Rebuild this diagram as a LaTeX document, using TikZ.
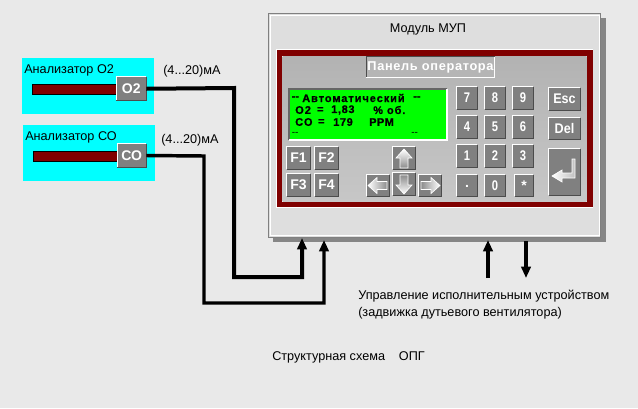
\documentclass[tikz,border=0pt]{standalone}
\usepackage{fontspec}
\usepackage{graphicx}
\setmainfont{Liberation Sans}
\newfontfamily\lcdfam[FakeBold=0.7,BoldFont={Liberation Sans Bold}]{Liberation Sans Bold}
\usetikzlibrary{arrows.meta,calc}
\definecolor{bg}{HTML}{E9E9E9}
\definecolor{modfill}{HTML}{DEDEDE}
\definecolor{maroon}{HTML}{800000}
\definecolor{btngrey}{HTML}{808080}
\definecolor{shadowgrey}{HTML}{868686}
\definecolor{cyanfill}{HTML}{00FFFF}
\definecolor{lcdgreen}{HTML}{00FF00}
\newcommand{\szt}{\fontsize{9.5}{11}\selectfont}
\newcommand{\lcdf}{\lcdfam\fontsize{8.2}{9}\selectfont}
\tikzset{
  x=0.75pt,y=-0.75pt,
  plain/.style={inner sep=0pt,anchor=west,text=black,font=\szt},
  btnnode/.style={fill=btngrey,inner sep=0pt,text=white,font=\fontsize{10.5}{12}\selectfont\bfseries},
  cyanbox/.style={fill=cyanfill,inner sep=0pt},
  bar/.style={fill=maroon,draw=black,line width=0.6pt},
  wire/.style={draw=black,line width=3pt,line join=miter},
  wirethin/.style={draw=black,line width=2.6pt},
  headup/.style={-{Triangle[length=8.5pt,width=7pt]}},
  lcdtext/.style={inner sep=0pt,anchor=west,font=\lcdf,text=black},
  keyicon/.style={draw=white,line width=0.5pt},
}
% name, x1,y1,x2,y2, label
\newcommand{\btn}[6]{%
  \pgfmathsetlengthmacro{\bw}{(#4-#2)*0.75pt}%
  \pgfmathsetlengthmacro{\bh}{(#5-#3)*0.75pt}%
  \node[btnnode,minimum width=\bw,minimum height=\bh] (#1) at ({(#2+#4)/2},{(#3+#5)/2}) {#6};
  \draw[white,line width=0.9pt] (#1.south west)--(#1.north west)--(#1.north east);
  \draw[black!70,line width=0.9pt] (#1.north east)--(#1.south east)--(#1.south west);
}
\newcommand{\lsp}[1]{\addfontfeature{LetterSpace=#1}}
\begin{document}
\begin{tikzpicture}
\useasboundingbox (0,0) rectangle (638,408);
\fill[bg] (0,0) rectangle (638,408);

% module
\fill[shadowgrey] (273,18) rectangle (605.5,242);
\node[fill=modfill,draw=black!50,line width=0.7pt,inner sep=0pt,minimum width=249pt,minimum height=168pt] (mod) at (434.5,125) {};
\draw[white,line width=0.5pt] (270,15) rectangle (599,235);
\node[plain,anchor=center] (modt) at (428,29.5) {Модуль МУП};

% frame and panel
\fill[white] (275.5,48.5) rectangle (593,207.5);
\fill[maroon] (276.5,49.5) rectangle (592.5,207);
\fill[white] (281.5,55.5) rectangle (587,202);
\shade[top color=black!30,bottom color=black!22] (282.5,56.5) rectangle (586.5,201);

% panel title
\node[fill=black!29,inner sep=0pt,minimum width=96pt,minimum height=15pt,text=white,font=\fontsize{9.6}{11}\selectfont\bfseries] (ptitle) at (430.5,67) {\lsp{5}Панель оператора};
\draw[black!70,line width=1pt] (ptitle.south west)--(ptitle.north west)--(ptitle.north east);
\draw[white,line width=1pt] (ptitle.north east)--(ptitle.south east)--(ptitle.south west);

% screen
\node[fill=lcdgreen,inner sep=0pt,minimum width=118pt,minimum height=38pt] (lcd) at (368,114.5) {};
\draw[black!60,line width=1pt] (lcd.south west)--(lcd.north west)--(lcd.north east);
\draw[white,line width=1pt] (lcd.north east)--(lcd.south east)--(lcd.south west);
\node[lcdtext] (l1a) at (291.5,98) {-{}-};
\node[lcdtext] (l1b) at (302,98) {\lsp{9}Автоматический};
\node[lcdtext] (l1c) at (413,98) {-{}-};
\node[lcdtext] (l2a) at (295,110) {\lsp{10}О2};
\node[lcdtext] (l2b) at (317,110) {=};
\node[lcdtext] (l2c) at (331,110) {\lsp{6}1,83};
\node[lcdtext] (l2d) at (373,110) {\lsp{9}\% об.};
\node[lcdtext] (l3a) at (295,122) {\lsp{10}СО};
\node[lcdtext] (l3b) at (318,122) {=};
\node[lcdtext] (l3c) at (333,122) {\lsp{6}179};
\node[lcdtext] (l3d) at (369,122) {\lsp{4}PPM};
\node[lcdtext,font=\fontsize{7.5}{8}\selectfont] (l4a) at (291.5,134) {-{}-};
\node[lcdtext,font=\fontsize{7.5}{8}\selectfont] (l4b) at (411,134) {-{}-};

% function keys
\btn{f1}{287}{147}{310}{169}{F1}
\btn{f2}{315}{147}{338}{169}{F2}
\btn{f3}{287}{174}{310}{196}{F3}
\btn{f4}{315}{174}{338}{196}{F4}

% arrow keys
\btn{kup}{393}{147}{415}{169}{}
\btn{kdn}{393}{173}{415}{195}{}
\btn{klf}{367}{175}{389}{196}{}
\btn{krt}{419}{175}{441}{196}{}
\path[keyicon,top color=white,bottom color=black!45] ($(kup)+(0,-9)$)--++(8,9)--++(-4,0)--++(0,10)--++(-8,0)--++(0,-10)--++(-4,0)--cycle;
\path[keyicon,top color=black!45,bottom color=white] ($(kdn)+(0,10)$)--++(8,-9)--++(-4,0)--++(0,-10)--++(-8,0)--++(0,10)--++(-4,0)--cycle;
\path[keyicon,left color=white,right color=black!45] ($(klf)+(-10,0)$)--++(9,-8)--++(0,4)--++(10,0)--++(0,8)--++(-10,0)--++(0,4)--cycle;
\path[keyicon,left color=black!45,right color=white] ($(krt)+(10,0)$)--++(-9,-8)--++(0,4)--++(-10,0)--++(0,8)--++(10,0)--++(0,4)--cycle;

% number keys
\newcommand{\numf}[1]{\scalebox{0.8}[1]{#1}}
\btn{k7}{457}{87}{477}{109}{\numf{7}}
\btn{k8}{485}{87}{505}{109}{\numf{8}}
\btn{k9}{513}{87}{533}{109}{\numf{9}}
\btn{k4}{457}{116}{477}{138}{\numf{4}}
\btn{k5}{485}{116}{505}{138}{\numf{5}}
\btn{k6}{513}{116}{533}{138}{\numf{6}}
\btn{k1}{457}{145}{477}{167}{\numf{1}}
\btn{k2}{485}{145}{505}{167}{\numf{2}}
\btn{k3}{513}{145}{533}{167}{\numf{3}}
\btn{kp}{457}{175}{477}{196}{\raisebox{-3pt}{.}}
\btn{k0}{485}{175}{505}{196}{\numf{0}}
\btn{ks}{515}{175}{533}{196}{*}
\btn{kesc}{549}{88}{580}{110}{\scalebox{0.9}[1]{Esc}}
\btn{kdel}{549}{118}{580}{139}{\scalebox{0.9}[1]{Del}}
\btn{kent}{549}{149}{580}{195}{}
\path[keyicon,left color=white,right color=black!25] ($(kent)+(-12.5,4)$)--++(10,-6)--++(0,3)--++(10,0)--++(0,-14)--++(3,0)--++(0,19)--++(-13,0)--++(0,4)--cycle;

% analysers
\node[cyanbox,minimum width=99pt,minimum height=41.5pt] (a1) at (88,86) {};
\node[cyanbox,minimum width=99pt,minimum height=42pt] (a2) at (89,153) {};
\node[plain] (a1t) at (24,70.5) {Анализатор О2};
\node[plain] (a2t) at (25,137.5) {Анализатор СО};
\node[bar,inner sep=0pt,minimum width=63pt,minimum height=7.5pt] (b1) at (74.5,89) {};
\node[bar,inner sep=0pt,minimum width=63pt,minimum height=7.5pt] (b2) at (75.5,156) {};
\btn{o2}{116.5}{77}{146}{100.5}{О2}
\btn{co}{117.5}{144}{146}{167}{СО}
\node[plain] (ma1) at (163,71) {(4...20)мА};
\node[plain] (ma2) at (161,140) {(4...20)мА};

% wiring
\coordinate (b1a) at (234,88);
\coordinate (b1b) at (234,277);
\coordinate (b1c) at (302,277);
\coordinate (t1) at (302,238);
\coordinate (b2a) at (204,156);
\coordinate (b2b) at (204,303);
\coordinate (b2c) at (324,303);
\coordinate (t2) at (324,240);
\coordinate (s3) at (488,278);
\coordinate (t3) at (488,240);
\coordinate (s4) at (526,241);
\coordinate (t4) at (526,278);
\draw[wire,headup] (o2.east)--(b1a)--(b1b)--(b1c)--(t1);
\draw[wirethin,headup] (co.east)--(b2a)--(b2b)--(b2c)--(t2);
\draw[wirethin,headup] (s3)--(t3);
\draw[wirethin,headup] (s4)--(t4);

% captions
\node[plain] (c1) at (358,296) {Управление исполнительным устройством};
\node[plain] (c2) at (358,313) {(задвижка дутьевого вентилятора)};
\node[plain] (c3) at (272,357.5) {Структурная схема\hspace{1.1em}ОПГ};
\end{tikzpicture}
\end{document}
